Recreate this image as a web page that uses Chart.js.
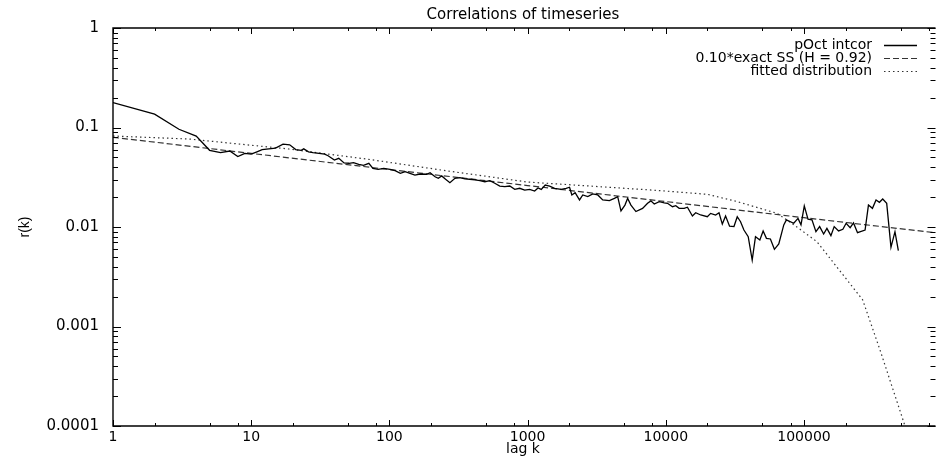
<!DOCTYPE html>
<html>
<head>
<meta charset="utf-8">
<title>Correlations of timeseries</title>
<script src="https://cdn.jsdelivr.net/npm/chart.js@4.4.1/dist/chart.umd.min.js"></script>
<style>
  html, body { margin: 0; padding: 0; background: #fff; }
  canvas { display: block; }
</style>
</head>
<body>
<canvas id="corr" width="936" height="461"></canvas>
<script>
// pOct intcor : lag k and r(k)
const lagK = [
  1, 2, 3, 4, 5, 6, 7, 8, 9, 10,
  11, 12, 15, 17, 19, 21, 23, 24, 26, 28,
  31, 34, 36, 40, 43, 47, 51, 55, 60, 65,
  71, 76, 83, 91, 101, 110, 120, 130, 141, 153,
  167, 186, 197, 214, 226, 239, 255, 274, 298, 324,
  352, 382, 416, 452, 491, 533, 579, 629, 684, 743,
  807, 877, 953, 1035, 1125, 1189, 1256, 1342, 1443, 1568,
  1750, 1901, 2012, 2090, 2208, 2375, 2508, 2726, 2961, 3218,
  3497, 3908, 4246, 4486, 4739, 5063, 5296, 5595, 6078, 6792,
  7381, 7798, 8250, 8964, 9739, 10290, 11180, 11810, 12500, 13580,
  14340, 15580, 16460, 17880, 19980, 21110, 22940, 24270, 25640, 27080,
  28930, 31140, 32890, 34750, 36760, 39480, 42190, 44570, 47930, 50620,
  53480, 57150, 61080, 65700, 71400, 74560, 84280, 90520, 95140, 100500,
  106900, 114200, 122000, 129800, 138700, 146500, 156600, 165400, 177900, 191100,
  201800, 215800, 228200, 243900, 276700, 292700, 312800, 332100, 351400, 371200,
  396700, 426000, 455300, 481700
];
const intcor = [
  0.178, 0.136, 0.096, 0.082, 0.059, 0.056, 0.058, 0.051, 0.055, 0.054,
  0.057, 0.060, 0.062, 0.068, 0.067, 0.060, 0.059, 0.061, 0.057, 0.056,
  0.055, 0.054, 0.052, 0.047, 0.049, 0.044, 0.0437, 0.0443, 0.0427, 0.0417,
  0.0437, 0.0389, 0.0380, 0.0389, 0.0380, 0.0368, 0.0346, 0.0360, 0.0346, 0.0333,
  0.0341, 0.0339, 0.0351, 0.0320, 0.0309, 0.0326, 0.0302, 0.0279, 0.0309, 0.0313,
  0.0304, 0.0302, 0.0297, 0.0292, 0.0285, 0.0292, 0.0275, 0.0258, 0.0254, 0.0258,
  0.0239, 0.0245, 0.0235, 0.0239, 0.0230, 0.0247, 0.0239, 0.0264, 0.0258, 0.0245,
  0.0239, 0.0245, 0.0251, 0.0210, 0.0221, 0.0187, 0.0210, 0.0202, 0.0215, 0.0210,
  0.0187, 0.0184, 0.0194, 0.0202, 0.0145, 0.0166, 0.0194, 0.0166, 0.0143, 0.0154,
  0.0173, 0.0183, 0.0170, 0.0180, 0.0175, 0.0173, 0.0160, 0.0164, 0.0154, 0.0154,
  0.0158, 0.0129, 0.0139, 0.0132, 0.0127, 0.0137, 0.0132, 0.0139, 0.0107, 0.0129,
  0.0102, 0.0101, 0.0127, 0.0113, 0.00933, 0.00799, 0.00466, 0.00799, 0.00740, 0.00912,
  0.00770, 0.00758, 0.00597, 0.00675, 0.0105, 0.0118, 0.0109, 0.0122, 0.0105, 0.0163,
  0.0120, 0.0118, 0.00897, 0.0101, 0.00851, 0.00970, 0.00818, 0.0101, 0.00912, 0.00948,
  0.0109, 0.00984, 0.0110, 0.00876, 0.00933, 0.0166, 0.0154, 0.0187, 0.0177, 0.0191,
  0.0173, 0.00625, 0.00897, 0.00578
];

// 0.10*exact SS (H = 0.92): straight on log-log axes
const ssLag = [1, 10, 100, 1000, 10000, 100000, 1000000];
const ssCor = [0.0797, 0.0549, 0.0378, 0.0261, 0.0180, 0.0124, 0.0086];

// fitted distribution
const fitLag = [1, 3.56, 18.7, 70.7, 267, 1000, 3220, 8720, 20000, 32900,
  63900, 84700, 124000, 188000, 266000, 355000, 538000, 601000];
const fitCor = [0.0821, 0.0766, 0.0608, 0.0479, 0.0365, 0.0283, 0.0255, 0.0233, 0.0213, 0.0180,
  0.0137, 0.0105, 0.00712, 0.00342, 0.00185, 0.00058, 0.0001, 0.000063];

const seriesNames = ['pOct intcor', '0.10*exact SS (H = 0.92)', 'fitted distribution'];
const xTickValues = [1, 10, 100, 1000, 10000, 100000];
const xTickLabels = ['1', '10', '100', '1000', '10000', '100000'];
const yTickValues = [0.0001, 0.001, 0.01, 0.1, 1];
const yTickLabels = ['0.0001', '0.001', '0.01', '0.1', '1'];

const FAMILY = "'DejaVu Sans', sans-serif";
const X_MINOR = [1, 2, 5, 8];   // gnuplot only marks these on the lag axis

function pairs(xs, ys) {
  return xs.map((x, i) => ({x: x, y: ys[i]}));
}

function labelFor(values, labels, v) {
  const i = values.findIndex(t => Math.abs(t - v) < t * 1e-6);
  return i < 0 ? '' : labels[i];
}

function mantissa(v) {
  const e = Math.floor(Math.log10(v) + 1e-9);
  const m = v / Math.pow(10, e);
  const r = Math.round(m);
  return Math.abs(m - r) < 1e-6 ? r : null;
}

// border on three sides plus inward tick marks on all four
const framePlugin = {
  id: 'frame',
  afterDatasetsDraw(chart) {
    const {ctx, chartArea: a, scales} = chart;
    const L = a.left, T = a.top, B = a.bottom, R = a.right + 2.5;
    ctx.save();
    ctx.strokeStyle = '#000';
    ctx.lineWidth = 1.4;
    ctx.beginPath();
    ctx.moveTo(R, T); ctx.lineTo(L, T); ctx.lineTo(L, B); ctx.lineTo(R, B);
    ctx.stroke();
    ctx.lineWidth = 1;
    ctx.beginPath();
    scales.y.ticks.forEach(t => {
      const m = mantissa(t.value);
      if (m === null) return;
      const len = m === 1 ? 8 : 5;
      const py = Math.round(scales.y.getPixelForValue(t.value)) + 0.5;
      ctx.moveTo(L, py); ctx.lineTo(L + len, py);
      ctx.moveTo(R, py); ctx.lineTo(R - len, py);
    });
    scales.x.ticks.forEach(t => {
      const m = mantissa(t.value);
      if (m === null || !X_MINOR.includes(m)) return;
      const len = m === 1 ? 6 : 3;
      const px = Math.round(scales.x.getPixelForValue(t.value)) + 0.5;
      ctx.moveTo(px, B); ctx.lineTo(px, B - len);
      ctx.moveTo(px, T); ctx.lineTo(px, T + len);
    });
    ctx.stroke();
    ctx.restore();
  }
};

// gnuplot style key: text right aligned, line sample on its right
const keyPlugin = {
  id: 'key',
  afterDraw(chart) {
    const {ctx, chartArea: a} = chart;
    ctx.save();
    ctx.font = '14px ' + FAMILY;
    ctx.textAlign = 'right';
    ctx.textBaseline = 'middle';
    ctx.fillStyle = '#000';
    chart.data.datasets.forEach((ds, i) => {
      const y = a.top + 17 + i * 13;
      ctx.fillText(ds.label, a.right - 61, y);
      ctx.beginPath();
      ctx.setLineDash(ds.borderDash || []);
      ctx.lineWidth = ds.borderWidth;
      ctx.strokeStyle = ds.borderColor;
      ctx.moveTo(a.right - 49, Math.round(y) + 0.5);
      ctx.lineTo(a.right - 16, Math.round(y) + 0.5);
      ctx.stroke();
    });
    ctx.restore();
  }
};

new Chart(document.getElementById('corr'), {
  type: 'line',
  data: {
    datasets: [
      {
        label: seriesNames[0],
        data: pairs(lagK, intcor),
        borderColor: '#000',
        borderWidth: 1.3,
        pointRadius: 0,
        tension: 0,
        fill: false
      },
      {
        label: seriesNames[1],
        data: pairs(ssLag, ssCor),
        borderColor: '#333',
        borderWidth: 1.2,
        borderDash: [6, 3],
        pointRadius: 0,
        tension: 0,
        fill: false
      },
      {
        label: seriesNames[2],
        data: pairs(fitLag, fitCor),
        borderColor: '#333',
        borderWidth: 1.2,
        borderDash: [1.5, 3],
        pointRadius: 0,
        tension: 0,
        fill: false
      }
    ]
  },
  plugins: [framePlugin, keyPlugin],
  options: {
    animation: false,
    responsive: false,
    maintainAspectRatio: false,
    events: [],
    layout: { padding: 0, autoPadding: false },
    plugins: {
      legend: { display: false },
      tooltip: { enabled: false },
      title: { display: false }
    },
    scales: {
      x: {
        type: 'logarithmic',
        position: 'bottom',
        min: 1,
        max: 858000,
        grid: { display: false, drawTicks: false },
        border: { display: false },
        ticks: {
          autoSkip: false,
          maxRotation: 0,
          padding: 3,
          color: '#000',
          font: { family: FAMILY, size: 14 },
          callback: function(value) {
            return labelFor(xTickValues, xTickLabels, value);
          }
        },
        title: {
          display: true,
          text: 'lag k',
          color: '#000',
          font: { family: FAMILY, size: 14 },
          padding: { top: 0, bottom: 3 }
        },
        afterFit: function(scale) { scale.height = 35; }
      },
      x2: {
        axis: 'x',
        type: 'linear',
        position: 'top',
        display: true,
        min: 0,
        max: 1,
        grid: { display: false, drawTicks: false },
        border: { display: false },
        ticks: { display: false },
        title: {
          display: true,
          text: 'Correlations of timeseries',
          color: '#000',
          font: { family: FAMILY, size: 15 },
          padding: { top: 6, bottom: 0 }
        },
        afterFit: function(scale) { scale.height = 28; }
      },
      y: {
        type: 'logarithmic',
        position: 'left',
        min: 0.0001,
        max: 1,
        grid: { display: false, drawTicks: false },
        border: { display: false },
        ticks: {
          autoSkip: false,
          padding: 14,
          color: '#000',
          font: { family: FAMILY, size: 15 },
          callback: function(value) {
            return labelFor(yTickValues, yTickLabels, value);
          }
        },
        title: {
          display: true,
          text: 'r(k)',
          color: '#000',
          font: { family: "'Liberation Sans', Arial, sans-serif", size: 14 },
          padding: { top: 17, bottom: 0 }
        },
        afterFit: function(scale) { scale.width = 113; }
      }
    }
  }
});
</script>
</body>
</html>
